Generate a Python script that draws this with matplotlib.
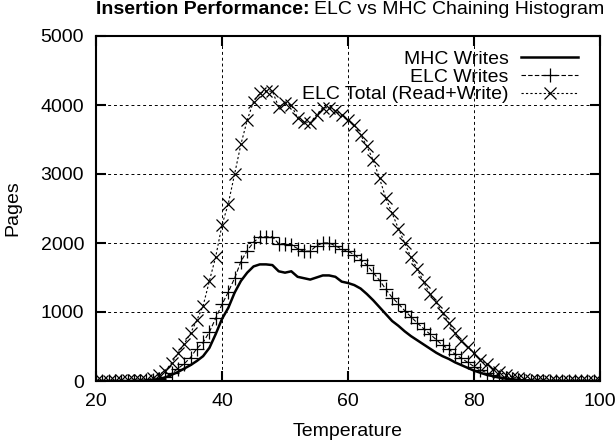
import matplotlib
matplotlib.use("Agg")
import matplotlib.pyplot as plt
import numpy as np

plt.rcParams['font.family'] = ['Liberation Sans', 'DejaVu Sans']

temperature = list(range(20, 101))

mhc_writes = [0, 0, 0, 0, 0, 0, 2, 4, 8, 15,
              30, 50, 90, 130, 180, 230, 290, 360, 480, 680,
              900, 1060, 1280, 1450, 1570, 1660, 1690, 1690, 1680, 1590,
              1570, 1590, 1510, 1490, 1470, 1500, 1530, 1530, 1510, 1440,
              1420, 1390, 1340, 1260, 1170, 1070, 970, 870, 800, 720,
              650, 590, 530, 470, 410, 360, 320, 270, 230, 190,
              150, 120, 90, 70, 50, 35, 25, 15, 10, 5,
              3, 2, 1, 0, 0, 0, 0, 0, 0, 0, 0]

elc_writes = [0, 0, 0, 0, 0, 2, 3, 5, 8, 12,
              30, 60, 110, 180, 250, 340, 470, 560, 710, 910,
              1110, 1290, 1490, 1730, 1890, 2010, 2090, 2090, 2090, 1990,
              1990, 1970, 1920, 1880, 1880, 1960, 2000, 2000, 1960, 1910,
              1880, 1830, 1760, 1680, 1570, 1460, 1330, 1210, 1120, 1020,
              930, 840, 760, 680, 600, 520, 460, 390, 330, 270,
              210, 160, 120, 85, 60, 40, 25, 15, 8, 4,
              2, 1, 0, 0, 0, 0, 0, 0, 0, 0, 0]

elc_total = [3, 5, 6, 6, 8, 8, 10, 12, 18, 40,
             90, 150, 260, 400, 540, 690, 880, 1090, 1450, 1800,
             2260, 2570, 3000, 3430, 3780, 4050, 4170, 4200, 4200, 3970,
             4030, 4000, 3810, 3760, 3740, 3860, 3960, 3960, 3920, 3850,
             3780, 3710, 3570, 3400, 3200, 2940, 2650, 2430, 2210, 2000,
             1790, 1620, 1440, 1260, 1140, 990, 840, 700, 580, 490,
             400, 310, 240, 180, 130, 90, 60, 40, 25, 15,
             10, 8, 6, 5, 4, 3, 3, 2, 2, 2, 2]

fig = plt.figure(figsize=(6.15, 4.41), dpi=100)
ax = fig.add_axes([96 / 615, 1 - 381 / 441, 504 / 615, 345 / 441])

ax.plot(temperature, mhc_writes, color='black', lw=1.8, label='MHC Writes')
ax.plot(temperature, elc_writes, color='black', lw=0.8, dashes=(4, 2),
        marker='+', ms=10, mew=0.9, label='ELC Writes')
ax.plot(temperature, elc_total, color='black', lw=0.8, dashes=(2, 2),
        marker='x', ms=8, mew=0.9, label='ELC Total (Read+Write)')

ax.set_xlim(20, 100)
ax.set_ylim(0, 5000)
ax.set_xticks([20, 40, 60, 80, 100])
ax.set_yticks([0, 1000, 2000, 3000, 4000, 5000])
ax.grid(True, color='black', lw=0.7, ls=(0, (3, 3)))
ax.tick_params(direction='in', length=7, width=1.5, top=True, right=True,
               labelsize=14, pad=8.5)
for s in ax.spines.values():
    s.set_linewidth(1.5)

ax.set_xlabel('Temperature', fontsize=14)
ax.set_ylabel('Pages', fontsize=14)
ax.xaxis.set_label_coords(0.5, -0.122)
ax.yaxis.set_label_coords(-0.148, 0.5)

fig.text(310 / 615, 1 - 9 / 441, 'Insertion Performance:', ha='right',
         va='center', fontsize=14, fontweight='bold')
fig.text(314 / 615, 1 - 9 / 441, 'ELC vs MHC Chaining Histogram', ha='left',
         va='center', fontsize=14)

ax.legend(loc='upper right', bbox_to_anchor=(0.956, 0.958), frameon=False,
          markerfirst=False, numpoints=1, handlelength=2.9, fontsize=14,
          labelspacing=0.0, borderaxespad=0, handletextpad=0.67, borderpad=0)

fig.savefig('out.png', dpi=100)
